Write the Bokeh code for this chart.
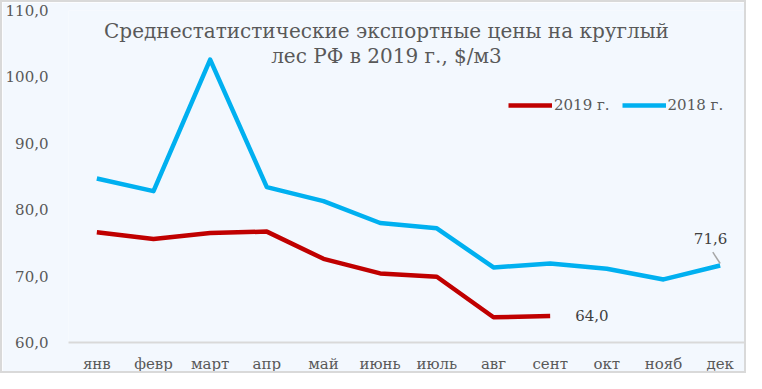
from bokeh.plotting import figure
from bokeh.models import (FactorRange, Range1d, ColumnDataSource, Legend, LegendItem,
                          Label, FixedTicker, CustomJSTickFormatter)
from bokeh.core.properties import value
from bokeh.embed import file_html
from bokeh.resources import INLINE

months = ["янв", "февр", "март", "апр", "май", "июнь", "июль", "авг", "сент", "окт", "нояб", "дек"]
prices_2018 = [84.7, 82.8, 102.6, 83.4, 81.3, 78.0, 77.2, 71.3, 71.9, 71.1, 69.5, 71.6]
months_2019 = ["янв", "февр", "март", "апр", "май", "июнь", "июль", "авг", "сент"]
prices_2019 = [76.6, 75.6, 76.5, 76.7, 72.6, 70.4, 69.9, 63.8, 64.0]
y_ticks = [60, 70, 80, 90, 100, 110]
title_lines = ["Среднестатистические экспортные цены на круглый", "лес РФ в 2019 г., $/м3"]

FONT = "DejaVu Serif"
GREY = "#595959"
BG = "#F3F8FE"

p = figure(width=746, height=373, output_backend="svg", toolbar_location=None,
           x_range=FactorRange(*months, range_padding=0), y_range=Range1d(60, 110))
p.min_border_left = 52
p.min_border_right = 0
p.min_border_top = 8
p.min_border_bottom = 0
p.background_fill_color = BG
p.border_fill_color = BG
p.outline_line_color = None
p.grid.visible = False
p.styles = {"border": "2px solid #D9D9D9", "box-sizing": "border-box"}

src18 = ColumnDataSource(dict(x=months, y=prices_2018))
src19 = ColumnDataSource(dict(x=months_2019, y=prices_2019))
r18 = p.line("x", "y", source=src18, line_color="#00B0F0", line_width=4.5, line_join="round")
r19 = p.line("x", "y", source=src19, line_color="#C00000", line_width=4.5, line_join="round")

# axes
p.yaxis.ticker = FixedTicker(ticks=y_ticks)
p.yaxis.formatter = CustomJSTickFormatter(code="return tick.toFixed(1).replace('.', ',');")
p.yaxis.axis_line_color = None
p.yaxis.major_tick_line_color = None
p.yaxis.minor_tick_line_color = None
p.yaxis.major_label_standoff = 14
p.yaxis.major_label_text_font = FONT
p.yaxis.major_label_text_font_size = "15px"
p.yaxis.major_label_text_color = GREY

p.xaxis.axis_line_color = "#D9D9D9"
p.xaxis.axis_line_width = 2
p.xaxis.major_tick_line_color = None
p.xaxis.minor_tick_line_color = None
p.xaxis.major_tick_out = 0
p.xaxis.major_tick_in = 0
p.xaxis.axis_label = None
p.xaxis.major_label_standoff = 12
p.xaxis.major_label_text_font = FONT
p.xaxis.major_label_text_font_size = "15px"
p.xaxis.major_label_text_color = GREY

# data labels
last18 = len(prices_2018) - 1
last19 = len(prices_2019) - 1
p.text(x=[months_2019[last19]], y=[prices_2019[last19]],
       text=[f"{prices_2019[last19]:.1f}".replace(".", ",")],
       x_offset=25, text_baseline="middle", text_align="left",
       text_font=value(FONT), text_font_size="15px", text_color="#404040")
p.segment(x0=[(months[last18], -0.13)], y0=[73.6], x1=[(months[last18], 0.0)], y1=[71.9],
          line_color="#A6A6A6", line_width=1.5)
p.text(x=[(months[last18], -0.17)], y=[75.6],
       text=[f"{prices_2018[last18]:.1f}".replace(".", ",")],
       text_baseline="middle", text_align="center",
       text_font=value(FONT), text_font_size="15px", text_color="#404040")

# title
for i, line in enumerate(title_lines):
    p.add_layout(Label(x=318, y=312 - 25 * i, x_units="screen", y_units="screen",
                       text=line, text_align="center", text_baseline="middle",
                       text_font=FONT, text_font_size="20px", text_color=GREY))

legend = Legend(items=[LegendItem(label="2019 г.", renderers=[r19]),
                       LegendItem(label="2018 г.", renderers=[r18])],
                orientation="horizontal", location=(440, 227),
                background_fill_alpha=0, border_line_color=None,
                label_text_font=FONT, label_text_font_size="15px", label_text_color=GREY,
                glyph_width=44, label_standoff=2, spacing=12, padding=0, margin=0)
p.add_layout(legend)

open("out.html", "w").write(file_html(p, INLINE))
